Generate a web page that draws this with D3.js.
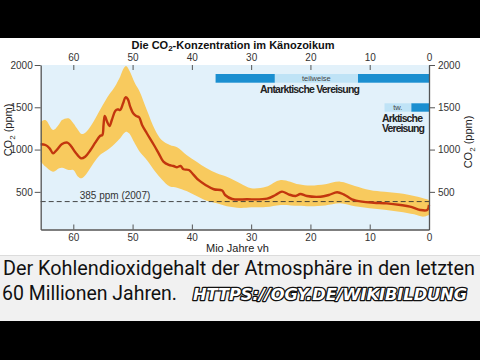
<!DOCTYPE html>
<html><head><meta charset="utf-8">
<script src="https://cdn.jsdelivr.net/npm/d3@7"></script>
<style>html,body{margin:0;padding:0;background:#000;}svg{display:block;}</style>
</head><body>
<svg id="c" width="480" height="360"></svg>
<script>
// ---- data ----
const lineAges = [65.5,64.7,64.0,63.4,62.7,61.9,61.0,60.4,59.6,58.7,58.0,57.1,56.3,55.5,55.1,54.9,54.7,54.3,53.9,53.5,52.9,52.5,52.1,51.6,51.2,50.8,50.4,49.9,49.4,48.9,48.4,47.6,46.4,45.6,44.8,43.9,43.1,42.5,41.9,41.4,40.5,39.7,38.9,37.7,36.3,34.9,34.4,33.2,30.7,27.3,25.9,24.8,23.7,22.5,21.7,20.6,18.3,16.9,15.5,14.4,13.0,11.3,9.3,7.1,4.8,3.2,1.5,0.3,0];
const co2Median = [1063,1054,1015,956,1003,1066,1082,1043,963,897,916,995,1082,1161,1173,1291,1397,1330,1279,1350,1460,1476,1468,1547,1618,1595,1507,1429,1397,1382,1291,1193,1054,956,857,818,806,791,806,767,759,700,641,582,531,515,463,416,412,420,463,503,471,451,475,451,443,463,495,471,412,384,372,364,345,326,286,286,345];
const bandAges = [65.5,64.7,63.4,62.4,61.9,60.8,60.0,59.2,58.6,57.8,56.6,55.5,54.7,53.8,53.0,52.1,51.5,51.1,50.6,49.6,48.8,47.6,46.2,45.1,43.7,42.5,40.9,39.2,37.5,35.8,34.1,31.8,30,27.5,25,22,20,17.5,15,12.5,10,7.5,5,2.5,1,0];
const co2High = [1330,1350,1232,1300,1350,1370,1311,1232,1184,1212,1330,1468,1566,1665,1744,1862,1961,1988,1941,1784,1685,1468,1232,1113,1054,1027,936,857,779,720,680,600,543,560,641,590,575,590,621,570,522,500,483,450,424,404];
const co2Low  = [857,800,739,779,785,759,759,680,661,712,838,936,975,1020,1070,1133,1190,1212,1193,1070,975,877,740,650,562,550,510,450,395,365,330,310,318,320,345,335,330,340,365,330,306,290,266,235,207,227];
const xTicks = [60,50,40,30,20,10,0];
const yTicks = [500,1000,1500,2000];
const refValue = 385;
const refLabel = "385 ppm (2007)";
const antarcticFull = [[36,26],[12,0]];
const antarcticPartial = [26,12];
const arcticFull = [3,0];
const arcticPartial = [7.5,3];

// ---- layout ----
const svg = d3.select("#c");
const L = 40.7, R = 429, T = 65, B = 229.5;
const x = d3.scaleLinear().domain([65.5,0]).range([L,R]);
const y = d3.scaleLinear().domain([55,2000]).range([B,T]);
const font = "'Liberation Sans', Arial, sans-serif";
const axisCol = "#555";

svg.append("rect").attr("x",0).attr("y",0).attr("width",480).attr("height",360).attr("fill","#000");
svg.append("rect").attr("x",0).attr("y",38).attr("width",480).attr("height",217).attr("fill","#fff");
svg.append("rect").attr("x",0).attr("y",255).attr("width",480).attr("height",66).attr("fill","#f1f1f1");
svg.append("line").attr("x1",0).attr("x2",480).attr("y1",255.5).attr("y2",255.5).attr("stroke","#dcdcdc");

// plot background
svg.append("rect").attr("x",L).attr("y",T).attr("width",R-L).attr("height",B-T).attr("fill","#e2f1fa");

// band
const band = bandAges.map((a,i)=>({a, hi:co2High[i], lo:co2Low[i]}));
svg.append("path").datum(band)
  .attr("d", d3.area().x(d=>x(d.a)).y0(d=>y(d.lo)).y1(d=>y(d.hi)).curve(d3.curveCatmullRom))
  .attr("fill","#f8ca5e");

// ref dashed line
svg.append("line").attr("x1",L).attr("x2",R).attr("y1",y(refValue)).attr("y2",y(refValue))
  .attr("stroke","#333").attr("stroke-width",0.9).attr("stroke-dasharray","5,3");
svg.append("text").attr("x",115).attr("y",y(refValue)-3).attr("text-anchor","middle")
  .attr("font-family",font).attr("font-size",10).attr("fill","#333").text(refLabel);

// median line
const med = lineAges.map((a,i)=>({a, v:co2Median[i]}));
svg.append("path").datum(med)
  .attr("d", d3.line().x(d=>x(d.a)).y(d=>y(d.v)).curve(d3.curveCatmullRom))
  .attr("fill","none").attr("stroke","#c2360e").attr("stroke-width",2.4).attr("stroke-linejoin","round");

// glaciation bars
const barDark = "#1b8fd0", barLight = "#bfe3f6";
function bar(seg, y0, h, col){
  svg.append("rect").attr("x",x(seg[0])).attr("y",y0).attr("width",x(seg[1])-x(seg[0])).attr("height",h).attr("fill",col);
}
antarcticFull.forEach(s=>bar(s,74,8.7,barDark));
bar(antarcticPartial,74,8.7,barLight);
svg.append("text").attr("x",(x(antarcticPartial[0])+x(antarcticPartial[1]))/2).attr("y",81)
  .attr("text-anchor","middle").attr("font-family",font).attr("font-size",7.5).attr("fill","#444").text("teilweise");
svg.append("text").attr("x",310).attr("y",93.3).attr("text-anchor","middle").attr("font-family",font)
  .attr("font-weight","bold").attr("font-size",10.5).attr("fill","#222").attr("textLength",100).text("Antarktische Vereisung");
bar(arcticFull,103.3,8.4,barDark);
bar(arcticPartial,103.3,8.4,barLight);
svg.append("text").attr("x",(x(arcticPartial[0])+x(arcticPartial[1]))/2).attr("y",110)
  .attr("text-anchor","middle").attr("font-family",font).attr("font-size",7.5).attr("fill","#444").text("tw.");
svg.append("text").attr("x",382).attr("y",121.5).attr("font-family",font).attr("font-weight","bold")
  .attr("font-size",10.5).attr("fill","#222").attr("textLength",41).text("Arktische");
svg.append("text").attr("x",382).attr("y",132).attr("font-family",font).attr("font-weight","bold")
  .attr("font-size",10.5).attr("fill","#222").attr("textLength",43).text("Vereisung");

// axes
function style(g){
  g.selectAll("path").attr("stroke",axisCol).attr("stroke-width",1.3);
  g.selectAll("line").attr("stroke",axisCol);
  g.selectAll("text").attr("font-family",font).attr("font-size",10).attr("fill","#333");
}
const gTop = svg.append("g").attr("transform",`translate(0,${T})`)
  .call(d3.axisTop(x).tickValues(xTicks).tickSizeInner(-5).tickSizeOuter(0).tickPadding(4));
style(gTop); gTop.select(".domain").remove();
gTop.selectAll("text").attr("dy","0");
const gBot = svg.append("g").attr("transform",`translate(0,${B})`)
  .call(d3.axisBottom(x).tickValues(xTicks).tickSizeInner(-5).tickSizeOuter(0).tickPadding(4));
style(gBot);
gBot.selectAll("text").attr("y",11.5).attr("dy","0");
const gL = svg.append("g").attr("transform",`translate(${L},0)`)
  .call(d3.axisLeft(y).tickValues(yTicks).tickFormat(d3.format("d")).tickSize(6).tickSizeOuter(0).tickPadding(2));
style(gL);
const gR = svg.append("g").attr("transform",`translate(${R},0)`)
  .call(d3.axisRight(y).tickValues(yTicks).tickFormat(d3.format("d")).tickSize(6).tickSizeOuter(0).tickPadding(3));
style(gR);

// labels
const title = svg.append("text").attr("x",233).attr("y",48.5).attr("text-anchor","middle")
  .attr("font-family",font).attr("font-weight","bold").attr("font-size",11).attr("fill","#111");
title.append("tspan").text("Die CO");
title.append("tspan").attr("font-size",8).attr("dy",2.5).text("2");
title.append("tspan").attr("dy",-2.5).text("-Konzentration im Känozoikum");

svg.append("text").attr("x",206).attr("y",252).attr("font-family",font)
  .attr("font-size",11).attr("fill","#222").text("Mio Jahre vh");

function ylab(cx, cy){
  const t = svg.append("text").attr("transform",`translate(${cx},${cy}) rotate(-90)`).attr("text-anchor","middle")
    .attr("font-family",font).attr("font-size",11).attr("fill","#222");
  t.append("tspan").text("CO");
  t.append("tspan").attr("font-size",8).attr("dy",2.5).text("2");
  t.append("tspan").attr("dy",-2.5).text(" (ppm)");
}
ylab(12,130);
ylab(472,142);

// caption
svg.append("text").attr("x",3).attr("y",274.5).attr("font-family","Roboto, sans-serif").attr("font-size",19.5)
  .attr("fill","#111").attr("textLength",472).attr("lengthAdjust","spacingAndGlyphs")
  .text("Der Kohlendioxidgehalt der Atmosphäre in den letzten");
svg.append("text").attr("x",2).attr("y",300).attr("font-family","Roboto, sans-serif").attr("font-size",19.5)
  .attr("fill","#111").attr("textLength",175).attr("lengthAdjust","spacingAndGlyphs")
  .text("60 Millionen Jahren.");
svg.append("text").attr("x",193).attr("y",300).attr("font-family","'DejaVu Sans', sans-serif").attr("font-size",16)
  .attr("font-weight","bold").attr("font-style","italic")
  .attr("fill","#fff").attr("stroke","#111").attr("stroke-width",2.6).attr("paint-order","stroke")
  .attr("stroke-linejoin","round")
  .attr("textLength",274).attr("lengthAdjust","spacingAndGlyphs")
  .text("HTTPS://OGY.DE/WIKIBILDUNG");
</script>
</body></html>
